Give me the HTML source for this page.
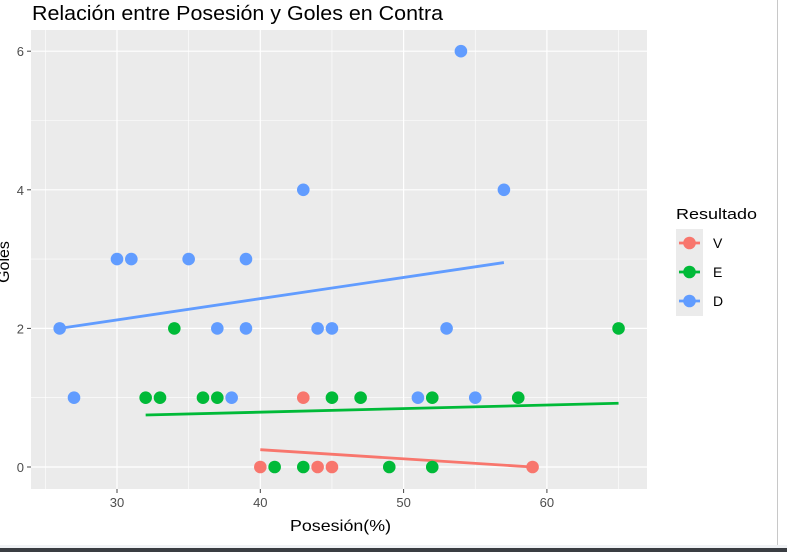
<!DOCTYPE html>
<html><head><meta charset="utf-8"><style>
body{margin:0;background:#fff;width:787px;height:552px;overflow:hidden;font-family:"Liberation Sans",sans-serif}
</style></head><body>
<svg width="787" height="552" style="position:absolute;left:0;top:0">
<rect x="0" y="0" width="787" height="552" fill="#fff"/>
<line x1="777.5" y1="0" x2="777.5" y2="545" stroke="#c8c8c8"/>
<rect x="0" y="545" width="787" height="7" fill="#f0f2f5"/>
<rect x="0" y="548" width="787" height="4" fill="#3a3d42"/>
<text x="32" y="20" font-size="20" textLength="411" lengthAdjust="spacingAndGlyphs" fill="#000">Relación entre Posesión y Goles en Contra</text>
<rect x="31" y="30" width="616" height="459" fill="#ebebeb"/>
<g id="grid"></g><g id="lines"></g><g id="pts"></g><g id="axes"></g>
<text x="290" y="531" font-size="16" textLength="101" lengthAdjust="spacingAndGlyphs" fill="#000">Posesión(%)</text>
<text transform="translate(9,262) rotate(-90)" font-size="16" text-anchor="middle" fill="#000">Goles</text>
<g>
<text x="676" y="219" font-size="15" textLength="81" lengthAdjust="spacingAndGlyphs" fill="#000">Resultado</text>
<rect x="676" y="229" width="27" height="87" fill="#ebebeb"/>
<g id="legend"></g>
</g>
</svg>
<script>
const groups=["V","E","D"];
const colors=["#f8766d","#00ba38","#619cff"];
const vX=[40,43,44,45,59], vY=[0,1,0,0,0];
const eX=[41,43,49,52,32,33,36,37,45,47,52,58,34,65], eY=[0,0,0,0,1,1,1,1,1,1,1,1,2,2];
const dX=[26,27,30,31,35,39,43,57,54,37,39,44,45,53,38,51,55], dY=[2,1,3,3,3,3,4,4,6,2,2,2,2,2,1,1,1];
// fitted trend endpoints per group: [x0, y0, x1, y1]
const vFit=[40,0.25,59,0];
const eFit=[32,0.75,65,0.92];
const dFit=[26,2.0,57,2.95];
const xTicks=[30,40,50,60], yTicks=[0,2,4,6];
const NS="http://www.w3.org/2000/svg";
const sx=v=>117+(v-30)*14.33, sy=v=>467-v*69.3;
function mk(t,a,p){const e=document.createElementNS(NS,t);for(const k in a)e.setAttribute(k,a[k]);p.appendChild(e);return e;}
const grid=document.getElementById('grid');
[25,35,45,55,65].forEach(v=>{const l=mk('line',{x1:sx(v),x2:sx(v),y1:30,y2:489,stroke:'#fff','stroke-width':0.6},grid);

});
[1,3,5].forEach(v=>{const l=mk('line',{x1:31,x2:647,y1:sy(v),y2:sy(v),stroke:'#fff','stroke-width':0.6},grid);

});
const axes=document.getElementById('axes');
xTicks.forEach(v=>{const l=mk('line',{x1:sx(v),x2:sx(v),y1:30,y2:489,stroke:'#fff','stroke-width':1.2},grid);


mk('line',{x1:sx(v),x2:sx(v),y1:489,y2:493,stroke:'#444'},axes);
const t=mk('text',{x:sx(v),y:507,'font-size':13,'text-anchor':'middle',fill:'#4d4d4d'},axes);t.textContent=v;

});
yTicks.forEach(v=>{const l=mk('line',{x1:31,x2:647,y1:sy(v),y2:sy(v),stroke:'#fff','stroke-width':1.2},grid);


mk('line',{x1:27,x2:31,y1:sy(v),y2:sy(v),stroke:'#444'},axes);
const t=mk('text',{x:24,y:sy(v)+5,'font-size':13,'text-anchor':'end',fill:'#4d4d4d'},axes);t.textContent=v;

});
const data=[[vX,vY,vFit],[eX,eY,eFit],[dX,dY,dFit]];
const lines=document.getElementById('lines'),pts=document.getElementById('pts');
data.forEach(([X,Y,F],g)=>{
 const l=mk('line',{x1:sx(F[0]),y1:sy(F[1]),x2:sx(F[2]),y2:sy(F[3]),stroke:colors[g],'stroke-width':2.8},lines);
 
 
 X.forEach((x,i)=>{const c=mk('circle',{cx:sx(x),cy:sy(Y[i]),r:6.3,fill:colors[g]},pts);
 
 });
});
const lg=document.getElementById('legend');
groups.forEach((g,i)=>{const y=243+i*29;
 mk('line',{x1:679,x2:700,y1:y,y2:y,stroke:colors[i],'stroke-width':2.8},lg);
 const c=mk('circle',{cx:689.5,cy:y,r:6.3,fill:colors[i]},lg);
 
 
 const t=mk('text',{x:713,y:y+5,'font-size':14,fill:'#000'},lg);t.textContent=g;
 
 });
</script>
</body></html>
